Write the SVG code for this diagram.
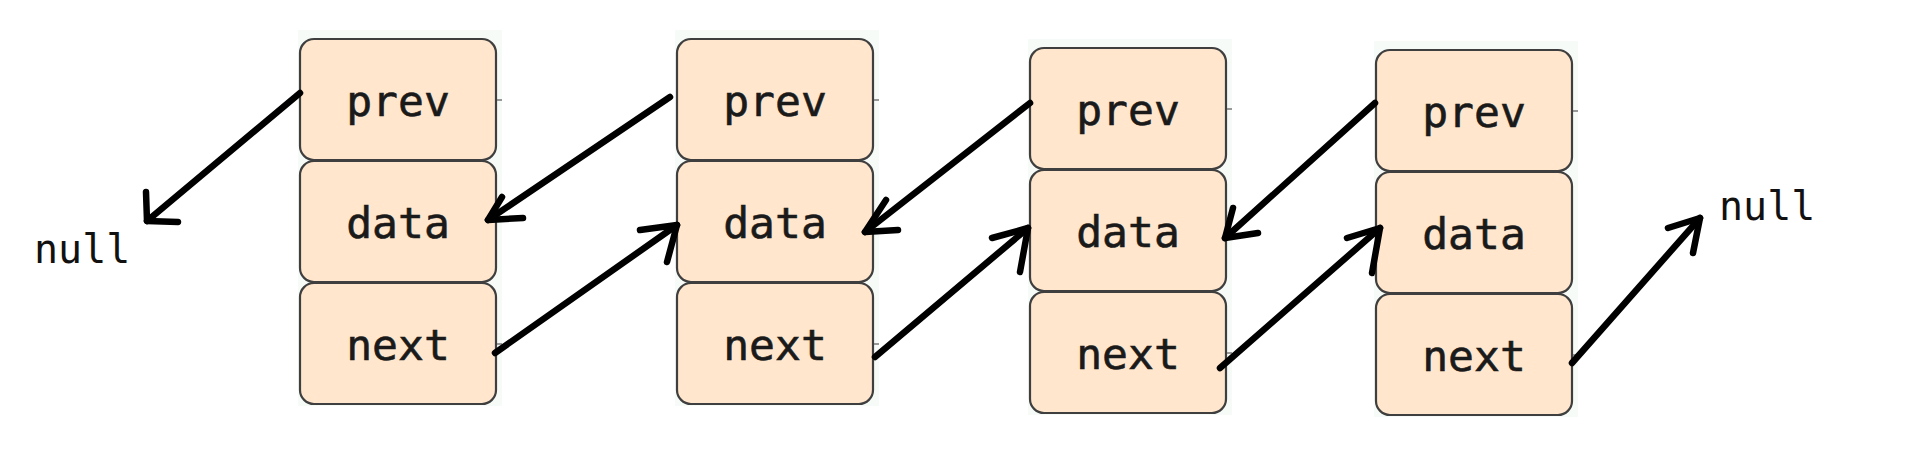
<svg xmlns="http://www.w3.org/2000/svg" width="1915" height="453" viewBox="0 0 1915 453">
  <style>
    .bg { fill: #f6fbf7; }
    .box { fill: #ffe6cc; stroke: #3f3f3f; stroke-width: 2.2; }
    .tick { stroke: #777; stroke-width: 1.5; }
    .lbl { font-family: "DejaVu Sans Mono", "Liberation Mono", monospace; font-size: 43px; fill: #1a1a1a; stroke: #1a1a1a; stroke-width: 0.6; text-anchor: middle; }
    .null { font-family: "DejaVu Sans Mono", "Liberation Mono", monospace; font-size: 40px; fill: #111; }
    .arr { fill: none; stroke: #000; stroke-width: 6.5; stroke-linecap: round; stroke-linejoin: round; }
  </style>
  <defs>
    <g id="node">
      <rect class="bg" x="-2" y="-9" width="204" height="376"/>
      <rect class="box" x="0" y="0" width="196" height="121" rx="14"/>
      <rect class="box" x="0" y="122" width="196" height="121" rx="14"/>
      <rect class="box" x="0" y="244" width="196" height="121" rx="14"/>
      <line class="tick" x1="197" y1="61" x2="202" y2="61"/>
      <line class="tick" x1="197" y1="305" x2="202" y2="305"/>
      <text class="lbl" x="98" y="77">prev</text>
      <text class="lbl" x="98" y="199">data</text>
      <text class="lbl" x="98" y="321">next</text>
    </g>
  </defs>
  <rect width="1915" height="453" fill="#fff"/>
  <g id="node1"><use href="#node" x="300" y="39"/></g>
  <g id="node2"><use href="#node" x="677" y="39"/></g>
  <g id="node3"><use href="#node" x="1030" y="48"/></g>
  <g id="node4"><use href="#node" x="1376" y="50"/></g>
  <g id="null-left"><text class="null" x="34" y="263">null</text></g>
  <g id="null-right"><text class="null" x="1719" y="220">null</text></g>
  <g id="connectors">
    <path class="arr" d="M300 93 L147 221"/>
    <path class="arr" d="M146 192 L147 221 L178 222"/>
    <path class="arr" d="M670 97 L488 220"/>
    <path class="arr" d="M502 197 L488 220 L523 218"/>
    <path class="arr" d="M495 353 L677 225"/>
    <path class="arr" d="M640 230 L677 225 L667 262"/>
    <path class="arr" d="M1030 103 L865 232"/>
    <path class="arr" d="M886 200 L865 232 L898 230"/>
    <path class="arr" d="M875 357 L1028 228"/>
    <path class="arr" d="M992 238 L1028 228 L1020 272"/>
    <path class="arr" d="M1375 103 L1225 238"/>
    <path class="arr" d="M1233 208 L1225 238 L1258 233"/>
    <path class="arr" d="M1220 368 L1380 228"/>
    <path class="arr" d="M1347 238 L1380 228 L1372 273"/>
    <path class="arr" d="M1572 363 L1700 218"/>
    <path class="arr" d="M1668 228 L1700 218 L1693 253"/>
  </g>
</svg>
